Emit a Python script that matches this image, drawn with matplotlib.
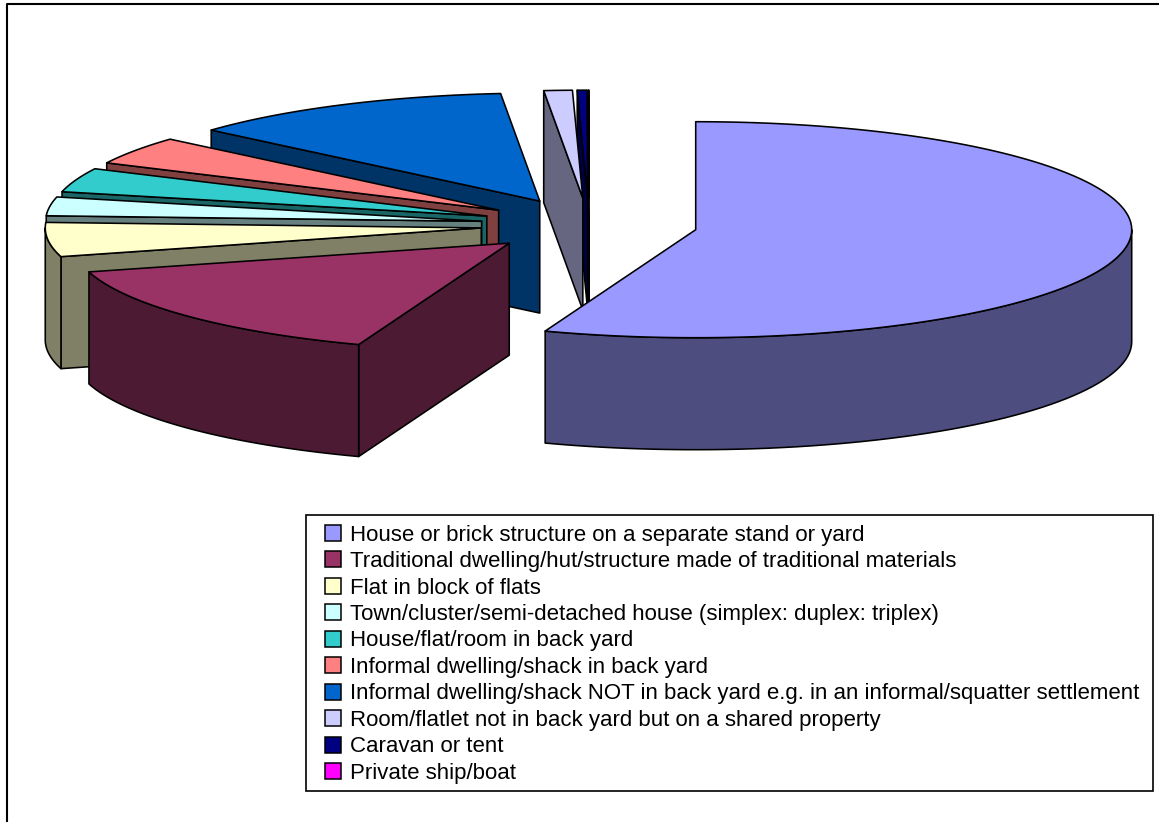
#!/usr/bin/env python
import numpy as np
import matplotlib
matplotlib.use('Agg')
import matplotlib.pyplot as plt
from matplotlib.legend_handler import HandlerPatch
from matplotlib.patches import Polygon, Patch, Rectangle

plt.rcParams['font.family'] = ['Liberation Sans', 'DejaVu Sans']

categories = [
    'House or brick structure on a separate stand or yard',
    'Traditional dwelling/hut/structure made of traditional materials',
    'Flat in block of flats',
    'Town/cluster/semi-detached house (simplex: duplex: triplex)',
    'House/flat/room in back yard',
    'Informal dwelling/shack in back yard',
    'Informal dwelling/shack NOT in back yard e.g. in an informal/squatter settlement',
    'Room/flatlet not in back yard but on a shared property',
    'Caravan or tent',
    'Private ship/boat',
]
values = [55.6, 15.1, 5.1, 2.8, 3.6, 4.2, 12.15, 1.05, 0.36, 0.02]
top_colors = ['#9999FF', '#993366', '#FFFFCC', '#CCFFFF', '#33CCCC',
              '#FF8080', '#0066CC', '#CCCCFF', '#000080', '#FF00FF']
side_colors = ['#4D4D80', '#4D1A33', '#808066', '#668080', '#1A6666',
               '#804040', '#003366', '#666680', '#000040', '#800080']

# pie geometry in pixels
CX, CY = 589, 225
RX, RY = 436, 108
DEPTH = 112
EXPLODE = 0.2486
LW = 1.15

def rim(t, ox, oy, dz=0):
    t = np.radians(t)
    return np.column_stack([ox + RX * np.sin(t), oy - RY * np.cos(t) + dz])

def face(ax, pts, color):
    ax.add_patch(Polygon(pts, closed=True, facecolor=color, edgecolor='black',
                         linewidth=LW, joinstyle='round'))

def legend_box(legend, orig_handle, xdescent, ydescent, width, height, fontsize):
    # 16 px square, sits at the right of the handle slot
    return Rectangle((width - 11.5 - xdescent, (height - 11.5) / 2 - ydescent), 11.5, 11.5)

fig = plt.figure(figsize=(11.59, 8.22), dpi=100)
ax = fig.add_axes([0, 0, 1, 1])
ax.set_xlim(0, 1159)
ax.set_ylim(822, 0)
ax.axis('off')

# outer chart border, only left and top are in the picture
ax.plot([6.5, 6.5, 1159], [822, 4, 4], color='black', lw=1.5)

edges = np.cumsum([0] + values) / sum(values) * 360

# back to front
for i in [9, 8, 7, 6, 5, 4, 3, 2, 1, 0]:
    s, e = edges[i], edges[i + 1]
    mid = np.radians((s + e) / 2)
    ox = CX + EXPLODE * RX * np.sin(mid)
    oy = CY - EXPLODE * RY * np.cos(mid)
    apex = np.array([[ox, oy]])

    # cut faces that look at the viewer
    for t, show in [(s, 180 < s < 360), (e, 0 < e < 180)]:
        if show:
            p = rim(t, ox, oy)
            low = np.array([[0, DEPTH]])
            face(ax, np.vstack([apex, p, p + low, apex + low]), side_colors[i])

    # curved outer wall, front half only
    a, b = max(s, 90), min(e, 270)
    if a < b:
        arc = np.linspace(a, b, 60)
        face(ax, np.vstack([rim(arc, ox, oy), rim(arc[::-1], ox, oy, DEPTH)]), side_colors[i])

    arc = np.linspace(s, e, max(int(e - s) * 2, 3))
    face(ax, np.vstack([apex, rim(arc, ox, oy)]), top_colors[i])

# legend frame is its own box because its padding is not even on all sides
ax.add_patch(Rectangle((306, 515), 847, 276, facecolor='white', edgecolor='black', linewidth=1.2))

handles = [Patch(facecolor=c, edgecolor='black', linewidth=1.1) for c in top_colors]
leg = ax.legend(handles, categories, loc='upper left',
                bbox_to_anchor=(318 / 1159, 1 - 523 / 822), bbox_transform=fig.transFigure,
                borderaxespad=0, borderpad=0, fontsize=16.05, frameon=False,
                handlelength=1.02, handleheight=1.0, handletextpad=0.41, labelspacing=0.173,
                handler_map={Patch: HandlerPatch(patch_func=legend_box)})

fig.savefig('out.png', dpi=100)
